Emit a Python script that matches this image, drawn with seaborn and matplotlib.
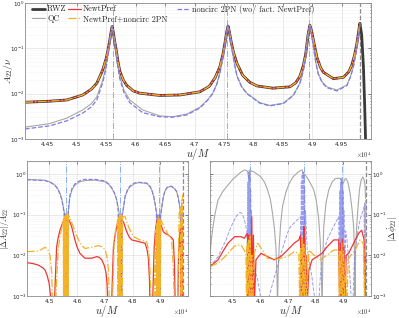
import numpy as np
import pandas as pd
import matplotlib
matplotlib.use("Agg")
import matplotlib.pyplot as plt
import seaborn as sns
from matplotlib.legend import Legend
from matplotlib.ticker import FuncFormatter, FixedLocator, LogLocator, NullFormatter

# valeurs : (u/M en unites de 1e4, log10 de la grandeur)
amp_rwz = [(4.412,-2.19),(4.450,-2.17),(4.483,-2.14),(4.510,-2.03),(4.525,-1.90),(4.534,-1.77),(4.544,-1.48),(4.550,-1.22),
           (4.553,-1.04),(4.556,-0.82),(4.558,-0.66),(4.560,-0.52),(4.562,-0.64),(4.564,-0.82),(4.567,-1.04),(4.570,-1.30),
           (4.573,-1.50),(4.579,-1.70),(4.585,-1.82),(4.596,-1.94),(4.607,-1.99),(4.641,-2.04),(4.675,-2.03),(4.709,-1.96),
           (4.725,-1.84),(4.735,-1.65),(4.743,-1.41),(4.748,-1.15),(4.752,-0.86),(4.755,-0.62),(4.757,-0.51),(4.759,-0.62),
           (4.762,-0.84),(4.766,-1.08),(4.772,-1.33),(4.782,-1.60),(4.794,-1.75),(4.806,-1.83),(4.833,-1.88),(4.862,-1.85),
           (4.872,-1.76),(4.879,-1.62),(4.885,-1.38),(4.889,-1.12),(4.893,-0.70),(4.896,-0.49),(4.899,-0.62),(4.902,-0.82),
           (4.908,-1.20),(4.914,-1.42),(4.919,-1.53),(4.936,-1.67),(4.953,-1.64),(4.962,-1.52),(4.967,-1.38),(4.972,-1.15),
           (4.976,-0.89),(4.979,-0.62),(4.981,-0.45),(4.984,-0.70),(4.987,-1.40),(4.989,-2.20),(4.991,-3.20)]
amp_newt = amp_rwz[:-4]
amp_newt_nc = amp_rwz[:-4]
amp_qc = [(4.412,-2.74),(4.454,-2.66),(4.483,-2.54),(4.510,-2.36),(4.525,-2.22),(4.534,-2.07),(4.544,-1.70),(4.550,-1.38),
          (4.553,-1.12),(4.556,-0.86),(4.558,-0.68),(4.560,-0.52),(4.562,-0.66),(4.565,-0.92),(4.568,-1.22),(4.573,-1.62),
          (4.580,-1.92),(4.590,-2.14),(4.612,-2.36),(4.641,-2.49),(4.663,-2.51),(4.687,-2.45),(4.709,-2.30),(4.722,-2.14),
          (4.731,-1.99),(4.738,-1.78),(4.743,-1.55),(4.748,-1.22),(4.752,-0.88),(4.755,-0.62),(4.757,-0.51),(4.760,-0.68),
          (4.763,-0.96),(4.767,-1.28),(4.772,-1.60),(4.780,-1.84),(4.789,-1.99),(4.811,-2.20),(4.828,-2.26),(4.851,-2.21),
          (4.868,-2.03),(4.879,-1.77),(4.885,-1.48),(4.888,-1.26),(4.892,-0.80),(4.896,-0.49),(4.899,-0.70),(4.902,-0.96),
          (4.906,-1.30),(4.910,-1.55),(4.917,-1.74),(4.925,-1.85),(4.942,-1.92),(4.959,-1.81),(4.965,-1.62),(4.970,-1.40),
          (4.975,-1.05),(4.978,-0.78),(4.981,-0.48)]
amp_nc = [(4.412,-2.78),(4.454,-2.71),(4.483,-2.60),(4.510,-2.43),(4.525,-2.29),(4.534,-2.14),(4.544,-1.76),(4.550,-1.42),
          (4.553,-1.15),(4.556,-0.88),(4.558,-0.68),(4.560,-0.52),(4.562,-0.68),(4.565,-0.95),(4.568,-1.26),(4.573,-1.67),
          (4.580,-1.97),(4.590,-2.20),(4.612,-2.42),(4.641,-2.51),(4.663,-2.52),(4.687,-2.47),(4.709,-2.32),(4.722,-2.15),
          (4.731,-2.00),(4.738,-1.79),(4.743,-1.56),(4.748,-1.23),(4.752,-0.89),(4.755,-0.62),(4.757,-0.51),(4.760,-0.69),
          (4.763,-0.97),(4.767,-1.29),(4.772,-1.61),(4.780,-1.85),(4.789,-2.00),(4.811,-2.21),(4.828,-2.27),(4.851,-2.22),
          (4.868,-2.04),(4.879,-1.78),(4.885,-1.49),(4.888,-1.27),(4.892,-0.80),(4.896,-0.49),(4.899,-0.70),(4.902,-0.97),
          (4.906,-1.31),(4.910,-1.56),(4.917,-1.76),(4.925,-1.87),(4.942,-1.94),(4.959,-1.82),(4.965,-1.63),(4.970,-1.41),
          (4.975,-1.06),(4.978,-0.78),(4.981,-0.48)]

# |dA22|/A22
dA_qc = [(4.418,-0.13),(4.450,-0.14),(4.484,-0.15),(4.505,-0.20),(4.520,-0.27),(4.530,-0.36),(4.538,-0.47),(4.545,-0.62),
         (4.550,-0.80),(4.555,-0.98),(4.559,-1.10),(4.563,-1.15),(4.567,-1.05),(4.570,-0.80),(4.574,-0.56),(4.582,-0.38),
         (4.592,-0.27),(4.610,-0.19),(4.628,-0.16),(4.665,-0.15),(4.701,-0.19),(4.715,-0.26),(4.725,-0.35),(4.735,-0.48),
         (4.743,-0.64),(4.749,-0.85),(4.753,-1.02),(4.757,-1.12),(4.762,-1.05),(4.767,-0.85),(4.773,-0.56),(4.782,-0.40),
         (4.791,-0.31),(4.806,-0.24),(4.821,-0.21),(4.851,-0.23),(4.862,-0.30),(4.869,-0.39),(4.876,-0.55),(4.881,-0.72),
         (4.886,-0.92),(4.890,-1.08),(4.896,-1.15),(4.901,-1.05),(4.905,-0.85),(4.911,-0.56),(4.917,-0.42),(4.923,-0.35),
         (4.932,-0.31),(4.941,-0.31),(4.951,-0.36),(4.959,-0.43),(4.965,-0.58),(4.970,-0.78),(4.975,-1.05),(4.979,-1.20)]
dA_nc = [(4.418,-0.14),(4.450,-0.15),(4.484,-0.16),(4.505,-0.21),(4.520,-0.28),(4.530,-0.37),(4.538,-0.49),(4.545,-0.64),
         (4.550,-0.82),(4.553,-1.00),(4.554,-3.3),(4.555,-1.05),(4.556,-3.3),(4.557,-0.98),(4.558,-3.3),(4.559,-1.10),
         (4.560,-3.3),(4.561,-1.00),(4.562,-3.3),(4.563,-1.02),(4.564,-3.3),(4.565,-1.10),(4.566,-3.3),(4.567,-1.00),
         (4.570,-0.78),(4.574,-0.52),(4.582,-0.34),(4.592,-0.24),(4.610,-0.16),(4.628,-0.13),(4.665,-0.13),(4.701,-0.17),
         (4.715,-0.25),(4.725,-0.34),(4.735,-0.47),(4.743,-0.64),(4.748,-0.90),(4.749,-3.3),(4.750,-1.00),(4.751,-3.3),
         (4.752,-1.05),(4.753,-3.3),(4.754,-0.98),(4.755,-3.3),(4.756,-1.00),(4.757,-3.3),(4.758,-1.05),(4.759,-3.3),
         (4.760,-1.00),(4.761,-3.3),(4.762,-1.00),(4.767,-0.82),(4.773,-0.54),(4.782,-0.38),(4.791,-0.29),(4.806,-0.22),
         (4.821,-0.20),(4.851,-0.22),(4.862,-0.29),(4.869,-0.38),(4.876,-0.54),(4.881,-0.72),(4.886,-0.95),(4.888,-3.3),
         (4.889,-1.00),(4.890,-3.3),(4.891,-1.05),(4.892,-3.3),(4.893,-0.98),(4.894,-3.3),(4.895,-1.00),(4.896,-3.3),
         (4.897,-1.00),(4.898,-3.3),(4.899,-1.02),(4.900,-3.3),(4.901,-1.00),(4.905,-0.82),(4.911,-0.55),(4.917,-0.41),
         (4.923,-0.34),(4.932,-0.30),(4.941,-0.30),(4.951,-0.35),(4.959,-0.43),(4.965,-0.58),(4.970,-0.80),(4.974,-1.05),
         (4.975,-3.3),(4.976,-1.00),(4.977,-3.3),(4.978,-1.00),(4.979,-3.3),(4.980,-0.90)]
dA_newt = [(4.418,-2.18),(4.440,-2.20),(4.460,-2.24),(4.475,-2.30),(4.484,-2.36),(4.492,-2.50),(4.499,-2.69),(4.504,-3.0),
           (4.507,-3.3),(4.515,-3.3),(4.519,-3.0),(4.523,-2.30),(4.526,-1.79),(4.532,-1.55),(4.538,-1.38),(4.545,-1.25),
           (4.550,-1.17),(4.554,-1.08),(4.556,-3.3),(4.557,-1.05),(4.558,-3.3),(4.560,-1.00),(4.561,-3.3),(4.563,-1.10),
           (4.564,-3.3),(4.566,-1.05),(4.568,-1.10),(4.574,-1.18),(4.580,-1.29),(4.586,-1.45),(4.592,-1.62),(4.600,-1.80),
           (4.610,-1.95),(4.628,-2.07),(4.653,-2.07),(4.671,-2.03),(4.680,-2.05),(4.689,-2.11),(4.698,-2.25),(4.704,-2.42),
           (4.708,-2.70),(4.711,-3.3),(4.724,-3.3),(4.727,-2.60),(4.731,-1.79),(4.737,-1.50),(4.743,-1.29),(4.749,-1.10),
           (4.751,-3.3),(4.752,-1.07),(4.753,-3.3),(4.755,-1.05),(4.756,-3.3),(4.758,-1.10),(4.759,-3.3),(4.761,-1.15),
           (4.767,-1.17),(4.773,-1.30),(4.779,-1.42),(4.788,-1.55),(4.797,-1.62),(4.821,-1.66),(4.845,-1.70),(4.852,-1.85),
           (4.857,-2.07),(4.861,-2.60),(4.863,-3.3),(4.872,-3.3),(4.875,-2.50),(4.878,-1.79),(4.883,-1.35),(4.887,-1.17),
           (4.889,-3.3),(4.890,-1.15),(4.891,-3.3),(4.893,-1.10),(4.894,-3.3),(4.896,-1.12),(4.897,-3.3),(4.899,-1.20),
           (4.905,-1.30),(4.911,-1.42),(4.920,-1.47),(4.929,-1.50),(4.940,-1.56),(4.947,-1.62),(4.951,-2.20),(4.954,-3.3),
           (4.963,-3.3),(4.966,-2.00),(4.971,-1.38),(4.974,-1.30),(4.975,-3.3),(4.977,-1.25),(4.978,-3.3),(4.980,-1.30)]
dA_newt_nc = [(4.418,-1.91),(4.440,-1.90),(4.460,-1.89),(4.475,-1.84),(4.484,-1.80),(4.494,-1.85),(4.502,-2.00),(4.508,-2.40),
              (4.512,-3.3),(4.522,-3.3),(4.526,-2.60),(4.532,-1.83),(4.538,-1.55),(4.545,-1.30),(4.550,-1.15),(4.551,-3.3),
              (4.552,-1.10),(4.553,-3.3),(4.555,-1.05),(4.556,-3.3),(4.558,-1.00),(4.559,-3.3),(4.561,-0.98),(4.562,-3.3),
              (4.564,-1.00),(4.565,-3.3),(4.567,-1.00),(4.568,-3.3),(4.569,-1.02),(4.576,-1.12),(4.586,-1.29),(4.598,-1.50),
              (4.610,-1.70),(4.628,-1.83),(4.653,-1.80),(4.677,-1.76),(4.690,-1.79),(4.701,-1.86),(4.708,-2.05),(4.713,-2.36),
              (4.717,-3.3),(4.727,-3.3),(4.731,-2.30),(4.734,-1.60),(4.741,-1.30),(4.746,-1.15),(4.747,-3.3),(4.749,-1.10),
              (4.750,-3.3),(4.752,-1.05),(4.753,-3.3),(4.755,-1.00),(4.756,-3.3),(4.758,-1.00),(4.759,-3.3),(4.761,-1.02),
              (4.762,-3.3),(4.764,-1.05),(4.773,-1.05),(4.785,-1.29),(4.803,-1.54),(4.827,-1.62),(4.851,-1.66),(4.858,-1.90),
              (4.863,-2.36),(4.867,-3.3),(4.877,-3.3),(4.881,-2.00),(4.884,-1.35),(4.885,-3.3),(4.887,-1.20),(4.888,-3.3),
              (4.890,-1.10),(4.891,-3.3),(4.893,-1.05),(4.894,-3.3),(4.896,-1.10),(4.897,-3.3),(4.899,-1.10),(4.900,-3.3),
              (4.902,-1.12),(4.905,-1.17),(4.914,-1.30),(4.923,-1.42),(4.932,-1.52),(4.941,-1.62),(4.947,-2.30),(4.951,-3.3),
              (4.962,-3.3),(4.966,-1.80),(4.968,-1.00),(4.972,-0.80),(4.975,-3.3),(4.977,-0.64),(4.978,-3.3),(4.980,-0.50)]

# |d phidot22|
dphi_qc = [(4.417,-2.11),(4.420,-1.85),(4.423,-1.60),(4.429,-1.29),(4.437,-0.95),(4.447,-0.64),(4.465,-0.42),(4.483,-0.27),
           (4.500,-0.13),(4.518,-0.02),(4.530,0.05),(4.542,0.10),(4.550,0.09),(4.554,0.06),(4.557,-0.05),(4.560,-0.15),
           (4.562,-0.02),(4.566,0.08),(4.575,0.06),(4.588,0.00),(4.602,-0.07),(4.615,-0.20),(4.626,-0.39),(4.636,-0.62),
           (4.644,-0.97),(4.651,-1.35),(4.656,-1.79),(4.660,-2.50),(4.662,-3.3),(4.664,-2.50),(4.668,-1.79),(4.673,-1.25),
           (4.680,-0.80),(4.692,-0.45),(4.704,-0.23),(4.718,-0.07),(4.733,0.03),(4.745,0.09),(4.751,0.10),(4.755,0.02),
           (4.757,-0.08),(4.760,0.00),(4.765,-0.05),(4.775,-0.15),(4.785,-0.28),(4.793,-0.39),(4.802,-0.65),(4.810,-1.05),
           (4.816,-1.60),(4.820,-2.30),(4.823,-3.3),(4.826,-2.00),(4.829,-1.29),(4.837,-0.72),(4.847,-0.39),(4.859,-0.20),
           (4.871,-0.11),(4.883,-0.10),(4.889,-0.11),(4.894,-0.22),(4.897,-0.26),(4.901,-0.20),(4.906,-0.12),(4.910,-0.11),
           (4.917,-0.22),(4.924,-0.47),(4.931,-0.85),(4.937,-1.29),(4.940,-1.90),(4.942,-3.3),(4.944,-1.90),(4.948,-1.29),
           (4.953,-0.80),(4.958,-0.39),(4.964,-0.15),(4.970,-0.07),(4.974,-0.12),(4.978,-0.25),(4.980,-0.60)]
dphi_nc = [(4.417,-2.28),(4.430,-2.18),(4.447,-2.03),(4.462,-1.82),(4.476,-1.62),(4.488,-1.40),(4.500,-1.21),(4.512,-1.05),
           (4.524,-0.95),(4.530,-0.95),(4.536,-1.00),(4.542,-1.12),(4.548,-1.29),(4.552,-1.45),(4.554,-3.3),(4.555,-0.20),
           (4.556,-3.3),(4.557,0.05),(4.558,-3.3),(4.560,0.10),(4.561,-3.3),(4.562,0.00),(4.564,-3.3),(4.565,-0.40),
           (4.567,-3.3),(4.568,-0.90),(4.570,-3.3),(4.572,-1.80),(4.578,-2.30),(4.590,-2.60),(4.600,-3.0),(4.606,-3.3),
           (4.626,-3.3),(4.632,-3.0),(4.638,-2.85),(4.650,-2.56),(4.668,-2.10),(4.686,-1.70),(4.698,-1.45),(4.709,-1.29),
           (4.727,-1.17),(4.739,-1.09),(4.745,-1.05),(4.747,-3.3),(4.748,-0.20),(4.750,-3.3),(4.751,0.00),(4.753,-3.3),
           (4.754,0.05),(4.756,-3.3),(4.757,0.00),(4.759,-3.3),(4.760,-0.30),(4.762,-3.3),(4.763,-0.90),(4.769,-1.84),
           (4.778,-2.20),(4.787,-2.56),(4.795,-3.0),(4.799,-3.3),(4.810,-3.3),(4.816,-2.60),(4.823,-2.11),(4.832,-1.85),
           (4.841,-1.62),(4.853,-1.45),(4.865,-1.29),(4.875,-1.15),(4.883,-1.05),(4.886,-3.3),(4.887,-0.40),(4.889,-3.3),
           (4.890,-0.20),(4.892,-3.3),(4.893,-0.10),(4.895,-3.3),(4.896,-0.20),(4.898,-3.3),(4.899,-0.40),(4.901,-3.3),
           (4.902,-0.90),(4.904,-3.3),(4.908,-1.40),(4.913,-1.62),(4.919,-2.10),(4.924,-2.56),(4.930,-3.3),(4.934,-3.3),
           (4.937,-2.60),(4.940,-2.10),(4.948,-1.60),(4.955,-1.29),(4.963,-1.05),(4.972,-0.88),(4.975,-0.80),(4.976,-3.3),
           (4.977,-0.70),(4.978,-3.3),(4.979,-0.75),(4.980,-3.3),(4.981,-0.70)]
dphi_newt = [(4.417,-2.28),(4.447,-2.11),(4.465,-1.90),(4.483,-1.70),(4.507,-1.54),(4.530,-1.54),(4.542,-1.58),(4.552,-1.46),
             (4.554,-1.60),(4.556,-3.3),(4.558,-1.50),(4.560,-3.3),(4.563,-1.50),(4.566,-3.3),(4.569,-1.05),(4.572,-3.3),
             (4.575,-1.50),(4.578,-3.3),(4.584,-2.11),(4.602,-1.95),(4.626,-2.03),(4.650,-2.11),(4.674,-2.03),(4.698,-1.87),
             (4.722,-1.70),(4.739,-1.62),(4.745,-1.50),(4.748,-3.3),(4.751,-1.60),(4.754,-3.3),(4.757,-1.29),(4.760,-1.60),
             (4.763,-3.3),(4.767,-2.00),(4.769,-3.3),(4.775,-2.36),(4.787,-2.11),(4.805,-2.03),(4.823,-1.95),(4.841,-1.79),
             (4.865,-1.62),(4.883,-1.62),(4.887,-3.3),(4.890,-1.70),(4.893,-3.3),(4.896,-1.60),(4.899,-3.3),(4.902,-1.80),
             (4.905,-3.3),(4.910,-2.00),(4.919,-1.95),(4.937,-1.70),(4.955,-1.46),(4.966,-1.38),(4.975,-1.62),(4.978,-3.3),
             (4.980,-2.00)]
dphi_newt_nc = [(4.417,-2.28),(4.447,-2.19),(4.465,-2.08),(4.483,-1.95),(4.507,-1.77),(4.530,-1.74),(4.548,-1.95),(4.550,-3.3),
                (4.552,-1.70),(4.554,-3.3),(4.557,-1.60),(4.560,-3.3),(4.563,-1.50),(4.566,-3.3),(4.569,-2.00),(4.572,-3.3),
                (4.578,-1.95),(4.590,-1.70),(4.608,-1.87),(4.626,-2.07),(4.650,-2.11),(4.674,-2.07),(4.698,-2.03),(4.722,-1.91),
                (4.739,-1.95),(4.742,-3.3),(4.745,-1.80),(4.748,-3.3),(4.751,-1.60),(4.754,-3.3),(4.757,-1.70),(4.760,-3.3),
                (4.764,-2.00),(4.767,-3.3),(4.775,-1.87),(4.793,-1.99),(4.817,-2.11),(4.841,-1.99),(4.865,-1.87),(4.883,-1.87),
                (4.885,-3.3),(4.888,-1.90),(4.891,-3.3),(4.894,-1.70),(4.897,-3.3),(4.900,-1.90),(4.903,-3.3),(4.907,-2.10),
                (4.913,-3.3),(4.917,-2.10),(4.924,-2.03),(4.942,-1.87),(4.960,-1.62),(4.972,-1.70),(4.977,-3.3),(4.980,-0.64)]

peri_times = [4.561, 4.756, 4.895]   # traits bleus verticaux
merger_time = 4.981                  # trait gris tirete

x_top_ticks = [4.45, 4.5, 4.55, 4.6, 4.65, 4.7, 4.75, 4.8, 4.85, 4.9, 4.95]
x_bot_ticks = [4.5, 4.6, 4.7, 4.8, 4.9]

C_RWZ, C_QC, C_NEWT, C_NC, C_NNC = "#3a3a3a", "#a8a8a8", "#f03535", "#7c7ce8", "#f2b22a"
C_PERI, C_MERG = "#86aef0", "#8c8c8c"

sns.set_theme(style="white")
plt.rcParams["mathtext.fontset"] = "cm"
plt.rcParams["font.family"] = ["DejaVu Sans"]
plt.rcParams["axes.unicode_minus"] = False


def df(pts):
    a = np.array(pts)
    return pd.DataFrame({"x": a[:, 0], "y": 10 ** a[:, 1]})


def courbe(ax, pts, color, lw, ls="-", label=None, zorder=2, alpha=1.0):
    sns.lineplot(data=df(pts), x="x", y="y", ax=ax, color=color, lw=lw, ls=ls, alpha=alpha,
                 estimator=None, sort=False, label=label, zorder=zorder, legend=False)


fig = plt.figure(figsize=(3.99, 3.18), dpi=100)
ax_top = fig.add_axes([0.0627, 0.563, 0.8673, 0.4277])
ax_bl = fig.add_axes([0.0669, 0.0692, 0.4043, 0.4245])
ax_br = fig.add_axes([0.5263, 0.0692, 0.4037, 0.4245])


def style(ax, xlim, ylim, xticks, lab_y):
    ax.set_yscale("log")
    ax.set_xlim(*xlim)
    ax.set_ylim(*ylim)
    ax.xaxis.set_major_locator(FixedLocator(xticks))
    ax.xaxis.set_major_formatter(FuncFormatter(lambda v, p: f"{v:g}"))
    ax.yaxis.set_major_locator(LogLocator(base=10, numticks=10))
    ax.yaxis.set_minor_locator(LogLocator(base=10, subs=np.arange(2, 10), numticks=10))
    ax.yaxis.set_minor_formatter(NullFormatter())
    ax.tick_params(which="both", direction="in", top=True, right=True, labelsize=4.3,
                   length=2, width=0.4, pad=2, colors="#262626")
    ax.tick_params(axis="y", pad=0.5, labelsize=4.0)
    ax.tick_params(which="minor", length=1)
    ax.grid(True, which="major", color="#e0e0e0", lw=0.5, ls="-")
    ax.grid(True, which="minor", axis="y", color="#e2e2e2", lw=0.4, ls=":")
    for s in ax.spines.values():
        s.set_color("#8a8a8a")
        s.set_linewidth(0.6)
    ax.set_xlabel("$u/M$", fontsize=7.5)
    ax.xaxis.set_label_coords(0.5, lab_y)
    ax.annotate(r"$\times10^{4}$", xy=(1.0, 0), xycoords="axes fraction", xytext=(0, -8),
                textcoords="offset points", fontsize=4.5, ha="right", va="top", color="#262626")
    for t in peri_times:
        ax.axvline(t, color=C_PERI, lw=0.7, ls="-.", zorder=1)
    ax.axvline(merger_time, color=C_MERG, lw=0.9, ls="--", zorder=1)


# panneau du haut
style(ax_top, (4.412, 5.0), (1e-3, 1.0), x_top_ticks, -0.055)
courbe(ax_top, amp_rwz, C_RWZ, 2.0, label="RWZ")
courbe(ax_top, amp_qc, C_QC, 0.8, label="QC")
courbe(ax_top, amp_newt, C_NEWT, 0.9, label="NewtPref")
courbe(ax_top, amp_newt_nc, C_NNC, 0.9, ls="-.", label="NewtPref+noncirc 2PN")
courbe(ax_top, amp_nc, C_NC, 0.9, ls="--", label="noncirc 2PN (wo/ fact. NewtPref)")
ax_top.set_ylabel(r"$A_{22}/\nu$", fontsize=7)
ax_top.yaxis.set_label_coords(-0.03, 0.5)

# legende en trois colonnes placees a la main
poignees, etiquettes = ax_top.get_legend_handles_labels()
colonnes = [([0, 1], 0.02), ([2, 3], 0.124), ([4], 0.44)]
for idx, x0 in colonnes:
    leg = Legend(ax_top, [poignees[i] for i in idx], [etiquettes[i] for i in idx],
                 loc="upper left", bbox_to_anchor=(x0, 0.985), frameon=False,
                 prop={"family": "cmr10", "size": 5.9}, handlelength=1.6, handletextpad=0.25,
                 labelspacing=0.15, borderaxespad=0.0, borderpad=0.0)
    ax_top.add_artist(leg)

# bas gauche
style(ax_bl, (4.418, 5.0), (1e-3, 2.1), x_bot_ticks, -0.05)
courbe(ax_bl, dA_qc, C_QC, 0.8)
courbe(ax_bl, dA_nc, C_NC, 0.8, ls="--")
courbe(ax_bl, dA_newt, C_NEWT, 0.9)
courbe(ax_bl, dA_newt_nc, C_NNC, 0.9, ls="-.")
ax_bl.set_ylabel(r"$|\Delta A_{22}|/A_{22}$", fontsize=6.0)
ax_bl.yaxis.set_label_coords(-0.097, 0.5)

# bas droite
style(ax_br, (4.418, 5.0), (1e-3, 2.1), x_bot_ticks, -0.05)
courbe(ax_br, dphi_qc, C_QC, 0.8)
courbe(ax_br, dphi_nc, C_NC, 0.7, ls="--", alpha=0.75)
courbe(ax_br, dphi_newt, C_NEWT, 0.9)
courbe(ax_br, dphi_newt_nc, C_NNC, 0.9, ls="-.")
ax_br.yaxis.tick_right()
ax_br.tick_params(which="both", left=True, right=True, labelleft=False, labelright=True)
ax_br.yaxis.set_label_position("right")
ax_br.set_ylabel(r"$|\Delta\dot{\phi}_{22}|$", fontsize=6.5)
ax_br.yaxis.set_label_coords(1.09, 0.5)

fig.savefig("out.png", dpi=100)
